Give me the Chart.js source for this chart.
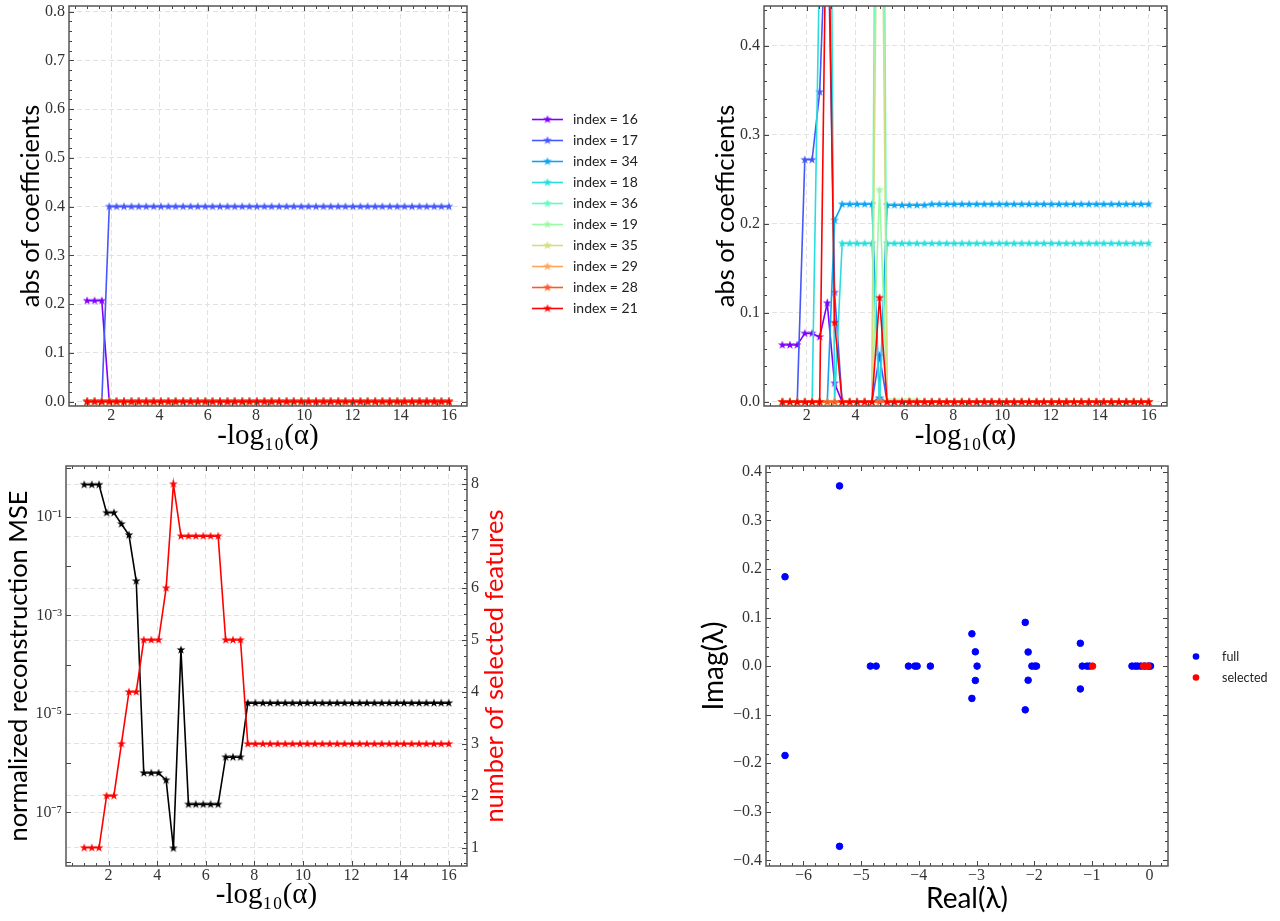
<!DOCTYPE html>
<html>
<head>
    <title>Coefficient paths and eigenvalues</title>
    <style>
        body {
            margin: 0;
            background-color: #fff;
            overflow: hidden;
        }

        canvas {
            position: absolute;
        }
    </style>
    <script src="https://cdn.jsdelivr.net/npm/chart.js"></script>
</head>
<body>
    <canvas id="coefFull" style="left:0;top:-10px" width="650" height="464"></canvas>
    <canvas id="coefZoom" style="left:700px;top:-10px" width="580" height="464"></canvas>
    <canvas id="mseChart" style="left:0;top:450px" width="600" height="471"></canvas>
    <canvas id="eigChart" style="left:690px;top:450px" width="590" height="471"></canvas>

    <script>
        // -log10(alpha) grid of the sweep
        const xs = [
            1.00, 1.31, 1.61, 1.92, 2.22, 2.53, 2.84, 3.14, 3.45, 3.76,
            4.06, 4.37, 4.67, 4.98, 5.29, 5.59, 5.90, 6.20, 6.51, 6.82,
            7.12, 7.43, 7.73, 8.04, 8.35, 8.65, 8.96, 9.27, 9.57, 9.88,
            10.18, 10.49, 10.80, 11.10, 11.41, 11.71, 12.02, 12.33, 12.63, 12.94,
            13.24, 13.55, 13.86, 14.16, 14.47, 14.78, 15.08, 15.39, 15.69, 16.00
        ];
        const xTicks = [2, 4, 6, 8, 10, 12, 14, 16];

        const indexNames = ["index = 16", "index = 17", "index = 34", "index = 18", "index = 36",
            "index = 19", "index = 35", "index = 29", "index = 28", "index = 21"];
        const indexColors = ["#8000ff", "#4757fb", "#0ea4f0", "#2adddd", "#63fbc3",
            "#9bfba4", "#d4dd80", "#ffa457", "#ff572c", "#ff0000"];

        // top left panel
        const full16 = [
            .207, .207, .207, 0, 0, 0, 0, 0, 0, 0,
            0, 0, 0, 0, 0, 0, 0, 0, 0, 0,
            0, 0, 0, 0, 0, 0, 0, 0, 0, 0,
            0, 0, 0, 0, 0, 0, 0, 0, 0, 0,
            0, 0, 0, 0, 0, 0, 0, 0, 0, 0
        ];
        const full17 = [
            0, 0, 0, .4, .4, .4, .4, .4, .4, .4,
            .4, .4, .4, .4, .4, .4, .4, .4, .4, .4,
            .4, .4, .4, .4, .4, .4, .4, .4, .4, .4,
            .4, .4, .4, .4, .4, .4, .4, .4, .4, .4,
            .4, .4, .4, .4, .4, .4, .4, .4, .4, .4
        ];
        const zeros = [
            0, 0, 0, 0, 0, 0, 0, 0, 0, 0,
            0, 0, 0, 0, 0, 0, 0, 0, 0, 0,
            0, 0, 0, 0, 0, 0, 0, 0, 0, 0,
            0, 0, 0, 0, 0, 0, 0, 0, 0, 0,
            0, 0, 0, 0, 0, 0, 0, 0, 0, 0
        ];
        const fullTicks = [0, .1, .2, .3, .4, .5, .6, .7, .8];

        // top right panel
        const zoom16 = [
            .064, .064, .064, .077, .077, .073, .111, .021, 0, 0,
            0, 0, 0, .004, 0, 0, 0, 0, 0, 0,
            0, 0, 0, 0, 0, 0, 0, 0, 0, 0,
            0, 0, 0, 0, 0, 0, 0, 0, 0, 0,
            0, 0, 0, 0, 0, 0, 0, 0, 0, 0
        ];
        const zoom17 = [
            0, 0, 0, .272, .272, .348, .58, .123, 0, 0,
            0, 0, 0, .052, 0, 0, 0, 0, 0, 0,
            0, 0, 0, 0, 0, 0, 0, 0, 0, 0,
            0, 0, 0, 0, 0, 0, 0, 0, 0, 0,
            0, 0, 0, 0, 0, 0, 0, 0, 0, 0
        ];
        const zoom34 = [
            0, 0, 0, 0, 0, 0, 0, .204, .222, .222,
            .222, .222, .222, .004, .221, .221, .221, .221, .221, .221,
            .222, .222, .222, .222, .222, .222, .222, .222, .222, .222,
            .222, .222, .222, .222, .222, .222, .222, .222, .222, .222,
            .222, .222, .222, .222, .222, .222, .222, .222, .222, .222
        ];
        const zoom18 = [
            0, 0, 0, 0, 0, .505, 1.2, 0, .178, .178,
            .178, .178, .178, .002, .178, .178, .178, .178, .178, .178,
            .178, .178, .178, .178, .178, .178, .178, .178, .178, .178,
            .178, .178, .178, .178, .178, .178, .178, .178, .178, .178,
            .178, .178, .178, .178, .178, .178, .178, .178, .178, .178
        ];
        const zoom36 = [
            0, 0, 0, 0, 0, 0, 0, 0, 0, 0,
            0, 0, 0, 1.5, 0, 0, 0, 0, 0, 0,
            0, 0, 0, 0, 0, 0, 0, 0, 0, 0,
            0, 0, 0, 0, 0, 0, 0, 0, 0, 0,
            0, 0, 0, 0, 0, 0, 0, 0, 0, 0
        ];
        const zoom19 = [
            0, 0, 0, 0, 0, 0, 0, 0, 0, 0,
            0, 0, 0, .238, .002, .002, .002, .002, .002, 0,
            0, 0, 0, 0, 0, 0, 0, 0, 0, 0,
            0, 0, 0, 0, 0, 0, 0, 0, 0, 0,
            0, 0, 0, 0, 0, 0, 0, 0, 0, 0
        ];
        const zoom35 = [
            0, 0, 0, 0, 0, 0, 0, 0, 0, 0,
            0, 0, 0, .88, 0, 0, 0, 0, 0, 0,
            0, 0, 0, 0, 0, 0, 0, 0, 0, 0,
            0, 0, 0, 0, 0, 0, 0, 0, 0, 0,
            0, 0, 0, 0, 0, 0, 0, 0, 0, 0
        ];
        const zoom21 = [
            0, 0, 0, 0, 0, 0, .65, .089, 0, 0,
            0, 0, 0, .117, 0, 0, 0, 0, 0, 0,
            0, 0, 0, 0, 0, 0, 0, 0, 0, 0,
            0, 0, 0, 0, 0, 0, 0, 0, 0, 0,
            0, 0, 0, 0, 0, 0, 0, 0, 0, 0
        ];
        const zoomTicks = [0, .1, .2, .3, .4];

        // bottom left panel
        const mseValues = [
            .454, .454, .454, .122, .122, .072, .043, .005, 6.3e-7, 6.3e-7,
            6.3e-7, 4.5e-7, 1.86e-8, 2.0e-4, 1.45e-7, 1.45e-7, 1.45e-7, 1.45e-7, 1.45e-7, 1.32e-6,
            1.32e-6, 1.32e-6, 1.66e-5, 1.66e-5, 1.66e-5, 1.66e-5, 1.66e-5, 1.66e-5, 1.66e-5, 1.66e-5,
            1.66e-5, 1.66e-5, 1.66e-5, 1.66e-5, 1.66e-5, 1.66e-5, 1.66e-5, 1.66e-5, 1.66e-5, 1.66e-5,
            1.66e-5, 1.66e-5, 1.66e-5, 1.66e-5, 1.66e-5, 1.66e-5, 1.66e-5, 1.66e-5, 1.66e-5, 1.66e-5
        ];
        const selectedCount = [
            1, 1, 1, 2, 2, 3, 4, 4, 5, 5,
            5, 6, 8, 7, 7, 7, 7, 7, 7, 5,
            5, 5, 3, 3, 3, 3, 3, 3, 3, 3,
            3, 3, 3, 3, 3, 3, 3, 3, 3, 3,
            3, 3, 3, 3, 3, 3, 3, 3, 3, 3
        ];
        const mseTicks = [1e-1, 1e-3, 1e-5, 1e-7];
        const mseTickLabels = ["10⁻¹", "10⁻³", "10⁻⁵", "10⁻⁷"];
        const mseDecades = [1, 1e-1, 1e-2, 1e-3, 1e-4, 1e-5, 1e-6, 1e-7, 1e-8];
        const countTicks = [1, 2, 3, 4, 5, 6, 7, 8];

        // bottom right panel
        const fullReal = [-6.32, -6.32, -5.375, -5.375, -4.84, -4.74, -4.18, -4.07, -4.03, -3.80,
            -3.08, -3.08, -3.02, -3.02, -2.99, -2.155, -2.155, -2.105, -2.105, -2.04, -1.99, -1.96,
            -1.20, -1.20, -1.167, -1.086, -1.04, -.305, -.248, -.208, -.15, -.08, -.02, .017];
        const fullImag = [.184, -.184, .371, -.371, 0, 0, 0, 0, 0, 0,
            .0665, -.0665, .0295, -.0295, 0, .09, -.09, .029, -.029, 0, 0, 0,
            .047, -.047, 0, 0, 0, 0, 0, 0, 0, 0, 0, 0];
        const selectedReal = [-.988, -.104, -.028];
        const selectedImag = [0, 0, 0];
        const eigXTicks = [-6, -5, -4, -3, -2, -1, 0];
        const eigYTicks = [-.4, -.3, -.2, -.1, 0, .1, .2, .3, .4];

        const serif = "'Liberation Serif', serif";
        const sans = "Lato, sans-serif";
        const gridColor = "#e2e2e2";
        const labelColor = "#333";

        function starImage(color) {
            const c = document.createElement("canvas");
            c.width = 10;
            c.height = 10;
            const g = c.getContext("2d");
            g.fillStyle = color;
            g.beginPath();
            for (let i = 0; i < 10; i++) {
                const r = i % 2 ? 1.8 : 4.6;
                const a = -Math.PI / 2 + i * Math.PI / 5;
                g.lineTo(5 + r * Math.cos(a), 5 + r * Math.sin(a));
            }
            g.closePath();
            g.fill();
            return c;
        }

        function starLine(values, color, label, order, yAxisID) {
            return {
                label: label,
                data: xs.map((x, i) => ({ x: x, y: values[i] })),
                borderColor: color,
                backgroundColor: color,
                borderWidth: 1.6,
                pointStyle: starImage(color),
                pointRadius: 4,
                order: order,
                yAxisID: yAxisID || "y",
                clip: 0
            };
        }

        function fmt(v) {
            return (v < 0 ? "\u2212" : "") + Math.abs(v).toFixed(1);
        }

        // fixed tick list, and a fixed box so the plot area lands where it should
        function axis(min, max, ticks, labelFn, boxSize, isX, withGrid, titleText, titleFont, titlePad) {
            return {
                type: "linear",
                position: isX ? "bottom" : "left",
                min: min,
                max: max,
                afterBuildTicks: s => { s.ticks = ticks.map(v => ({ value: v })); },
                afterFit: s => { if (isX) s.height = boxSize; else s.width = boxSize; },
                grid: { display: withGrid, color: gridColor, lineWidth: 1, drawTicks: false, tickLength: 0 },
                border: { display: false, dash: [5, 3] },
                ticks: {
                    callback: labelFn,
                    font: { family: serif, size: 16 },
                    color: labelColor,
                    padding: isX ? 0 : 4,
                    autoSkip: false,
                    maxRotation: 0,
                    includeBounds: false
                },
                title: {
                    display: !!titleText,
                    text: titleText,
                    color: "#000",
                    font: titleFont,
                    padding: titlePad
                }
            };
        }

        const xTitle = { family: serif, size: 29 };
        const yTitle = { family: sans, size: 25.5 };
        const eigTitle = { family: sans, size: 28 };

        // inward ticks on every side plus the axes frame
        const framePlugin = {
            id: "frame",
            afterDraw(chart, args, opts) {
                const { ctx, chartArea: a } = chart;
                ctx.save();
                ctx.strokeStyle = "#444";
                ctx.lineWidth = 1;
                opts.marks.forEach(m => {
                    const s = chart.scales[m.scale];
                    const len = m.minor ? 3 : 5;
                    for (const v of m.values) {
                        const p = Math.round(s.getPixelForValue(v)) + .5;
                        ctx.beginPath();
                        if (s.isHorizontal()) {
                            ctx.moveTo(p, a.bottom); ctx.lineTo(p, a.bottom - len);
                            ctx.moveTo(p, a.top); ctx.lineTo(p, a.top + len);
                        } else if (m.side === "left") {
                            ctx.moveTo(a.left, p); ctx.lineTo(a.left + len, p);
                        } else if (m.side === "right") {
                            ctx.moveTo(a.right, p); ctx.lineTo(a.right - len, p);
                        } else {
                            ctx.moveTo(a.left, p); ctx.lineTo(a.left + len, p);
                            ctx.moveTo(a.right, p); ctx.lineTo(a.right - len, p);
                        }
                        ctx.stroke();
                    }
                });
                ctx.strokeStyle = "#555";
                ctx.lineWidth = 1.5;
                ctx.strokeRect(a.left, a.top, a.right - a.left, a.bottom - a.top);
                ctx.restore();
            }
        };

        // legend out to the side of the axes
        const sideLegendPlugin = {
            id: "sideLegend",
            afterDraw(chart, args, opts) {
                if (!opts.items) return;
                const ctx = chart.ctx;
                ctx.save();
                ctx.font = opts.size + "px " + sans;
                ctx.textBaseline = "middle";
                opts.items.forEach((item, i) => {
                    const y = opts.y + i * opts.step;
                    if (item.star) {
                        ctx.strokeStyle = item.color;
                        ctx.lineWidth = 1.6;
                        ctx.beginPath();
                        ctx.moveTo(opts.x, y);
                        ctx.lineTo(opts.x + 31, y);
                        ctx.stroke();
                        ctx.drawImage(item.star, opts.x + 15.5 - 5, y - 5);
                    } else {
                        ctx.fillStyle = item.color;
                        ctx.beginPath();
                        ctx.arc(opts.x, y, 3.3, 0, Math.PI * 2);
                        ctx.fill();
                    }
                    ctx.fillStyle = "#222";
                    ctx.fillText(item.text, opts.textX, y);
                });
                ctx.restore();
            }
        };

        // matplotlib's twin axis label reads upward, Chart.js would turn it the other way
        const upTitlePlugin = {
            id: "upTitle",
            afterDraw(chart, args, opts) {
                if (!opts.text) return;
                const { ctx, chartArea: a } = chart;
                ctx.save();
                ctx.translate(a.right + opts.offset, (a.top + a.bottom) / 2);
                ctx.rotate(-Math.PI / 2);
                ctx.font = yTitle.size + "px " + sans;
                ctx.fillStyle = opts.color;
                ctx.textAlign = "center";
                ctx.textBaseline = "middle";
                ctx.fillText(opts.text, 0, 0);
                ctx.restore();
            }
        };

        Chart.register(framePlugin, sideLegendPlugin, upTitlePlugin);

        const xMinor = [.5, 1, 1.5, 2.5, 3, 3.5, 4.5, 5, 5.5, 6.5, 7, 7.5, 8.5, 9, 9.5, 10.5, 11, 11.5, 12.5, 13, 13.5, 14.5, 15, 15.5, 16.5];
        const y02Minor = [];
        for (let v = -40; v <= 80; v += 2) y02Minor.push(v / 100);
        const countMinor = [];
        for (let v = 7; v <= 83; v += 2) countMinor.push(v / 10);
        const eigXMinor = [];
        for (let v = -66; v <= 2; v += 2) eigXMinor.push(v / 10);

        function baseOptions(padding, extraPlugins) {
            return {
                responsive: false,
                animation: false,
                events: [],
                layout: { padding: padding, autoPadding: false },
                plugins: Object.assign({ legend: { display: false }, tooltip: { enabled: false } }, extraPlugins)
            };
        }

        const coefLegend = indexNames.map((t, i) => ({ text: t, color: indexColors[i], star: starImage(indexColors[i]) }));

        new Chart(document.getElementById("coefFull"), {
            type: "line",
            data: {
                datasets: [full16, full17, zeros, zeros, zeros, zeros, zeros, zeros, zeros, zeros]
                    .map((s, i) => starLine(s, indexColors[i], indexNames[i], 9 - i))
            },
            options: Object.assign(baseOptions({ top: 16, right: 183, bottom: 0, left: 0 }, {
                frame: { marks: [
                    { scale: "x", values: xTicks },
                    { scale: "x", values: xMinor, minor: true },
                    { scale: "y", values: fullTicks },
                    { scale: "y", values: y02Minor.filter(v => v >= 0), minor: true }
                ] },
                sideLegend: { items: coefLegend, x: 532, textX: 573, y: 129.5, step: 21, size: 14 }
            }), {
                scales: {
                    x: axis(.25, 16.75, xTicks, v => v, 48, true, true, "-log₁₀(α)", xTitle, { top: 0, bottom: 0 }),
                    y: axis(-.009, .8115, fullTicks, fmt, 69, false, true, "abs of coefficients", yTitle, { top: 15, bottom: 0 })
                }
            })
        });

        new Chart(document.getElementById("coefZoom"), {
            type: "line",
            data: {
                datasets: [zoom16, zoom17, zoom34, zoom18, zoom36, zoom19, zoom35, zeros, zeros, zoom21]
                    .map((s, i) => starLine(s, indexColors[i], indexNames[i], 9 - i))
            },
            options: Object.assign(baseOptions({ top: 16, right: 113, bottom: 0, left: 0 }, {
                frame: { marks: [
                    { scale: "x", values: xTicks },
                    { scale: "x", values: xMinor, minor: true },
                    { scale: "y", values: zoomTicks },
                    { scale: "y", values: y02Minor.filter(v => v >= 0 && v <= .44), minor: true }
                ] }
            }), {
                scales: {
                    x: axis(.25, 16.75, xTicks, v => v, 48, true, true, "-log₁₀(α)", xTitle, { top: 0, bottom: 0 }),
                    y: axis(-.0045, .4447, zoomTicks, fmt, 64, false, true, "abs of coefficients", yTitle, { top: 10, bottom: 0 })
                }
            })
        });

        const mseY = axis(Math.pow(10, -8.09), Math.pow(10, .037), mseTicks, v => mseTickLabels[mseTicks.indexOf(v)],
            66, false, true, "normalized reconstruction MSE", yTitle, { top: 3, bottom: 0 });
        mseY.type = "logarithmic";
        const countY = axis(.65, 8.35, countTicks, v => v, 133, false, true, "", yTitle, 0);
        countY.position = "right";

        new Chart(document.getElementById("mseChart"), {
            type: "line",
            data: {
                datasets: [
                    starLine(mseValues, "#000000", "normalized reconstruction MSE", 1, "y"),
                    starLine(selectedCount, "#ff0000", "number of selected features", 0, "y1")
                ]
            },
            options: Object.assign(baseOptions({ top: 16, right: 0, bottom: 0, left: 0 }, {
                frame: { marks: [
                    { scale: "x", values: xTicks },
                    { scale: "x", values: xMinor, minor: true },
                    { scale: "y", values: mseDecades, side: "left" },
                    { scale: "y1", values: countTicks, side: "right" },
                    { scale: "y1", values: countMinor, side: "right", minor: true }
                ] },
                upTitle: { text: "number of selected features", offset: 28, color: "#ff0000" }
            }), {
                scales: {
                    x: axis(.25, 16.75, xTicks, v => v, 55, true, true, "-log₁₀(α)", xTitle, { top: 0, bottom: 8 }),
                    y: mseY,
                    y1: countY
                }
            })
        });

        new Chart(document.getElementById("eigChart"), {
            type: "scatter",
            data: {
                datasets: [
                    {
                        label: "full",
                        data: fullReal.map((x, i) => ({ x: x, y: fullImag[i] })),
                        backgroundColor: "#0000ff",
                        borderColor: "#0000ff",
                        pointRadius: 3.3,
                        order: 1
                    },
                    {
                        label: "selected",
                        data: selectedReal.map((x, i) => ({ x: x, y: selectedImag[i] })),
                        backgroundColor: "#ff0000",
                        borderColor: "#ff0000",
                        pointRadius: 3.3,
                        order: 0
                    }
                ]
            },
            options: Object.assign(baseOptions({ top: 16, right: 112, bottom: 0, left: 0 }, {
                frame: { marks: [
                    { scale: "x", values: eigXTicks },
                    { scale: "x", values: eigXMinor, minor: true },
                    { scale: "y", values: eigYTicks },
                    { scale: "y", values: y02Minor.filter(v => Math.abs(v) <= .41), minor: true }
                ] },
                sideLegend: { items: [
                    { text: "full", color: "#0000ff" },
                    { text: "selected", color: "#ff0000" }
                ], x: 506, textX: 532, y: 206.5, step: 21, size: 12.5 }
            }), {
                scales: {
                    x: axis(-6.65, .32, eigXTicks, v => v < 0 ? "\u2212" + Math.abs(v) : "0", 55, true, false, "Real(λ)", eigTitle, { top: 0, bottom: 5 }),
                    y: axis(-.4115, .412, eigYTicks, fmt, 76, false, false, "Imag(λ)", eigTitle, { top: 7, bottom: 0 })
                }
            })
        });
    </script>
</body>
</html>
